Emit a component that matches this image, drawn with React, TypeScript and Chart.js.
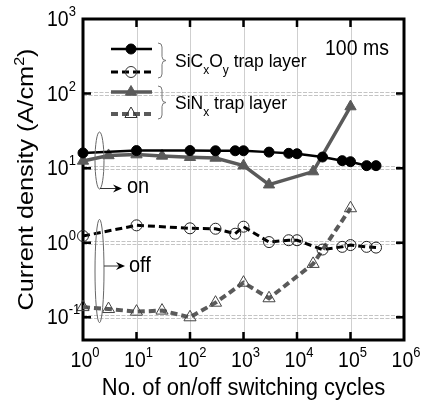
import React, { useEffect, useRef } from 'react';
import { Chart, registerables } from 'chart.js';
Chart.register(...registerables);

// ---- data ----
const cyclesSiCO = [1, 10, 100, 300, 700, 1000, 3000, 7000, 10000, 30000, 70000, 100000, 200000, 300000];
const onSiCO = [16, 17.2, 17.2, 17.1, 17.1, 17.1, 16.4, 15.8, 15.6, 14.1, 12.6, 12.2, 10.8, 10.8];
const offSiCO = [1.23, 1.71, 1.56, 1.54, 1.32, 1.64, 1.02, 1.08, 1.08, 0.81, 0.88, 0.93, 0.88, 0.86];
const cyclesSiN = [1, 3, 10, 30, 100, 300, 1000, 3000, 20000, 100000];
const onSiN = [12.5, 14.8, 15.2, 14.6, 14.0, 13.7, 10.8, 6.0, 9.0, 67];
const offSiN = [0.137, 0.129, 0.119, 0.123, 0.1, 0.157, 0.291, 0.18, 0.52, 2.9];
const xTickExps = [0, 1, 2, 3, 4, 5, 6];
const yTickExps = [-1, 0, 1, 2, 3];
const xTitle = 'No. of on/off switching cycles';
const yTitle = 'Current density (A/cm';
const noteText = '100 ms';

const FONT = '"Liberation Sans", Arial, Helvetica, sans-serif';
const SY = 1.1;
const GREY = '#5a5a5a';

type Run = { t: string; size: number; dy: number };

function drawRuns(ctx: CanvasRenderingContext2D, runs: Run[], x: number, y: number, align: 'left' | 'center' | 'right', sy = SY) {
  ctx.save();
  ctx.textBaseline = 'alphabetic';
  ctx.textAlign = 'left';
  let total = 0;
  const widths = runs.map((r) => {
    ctx.font = `${r.size}px ${FONT}`;
    const w = ctx.measureText(r.t).width;
    total += w;
    return w;
  });
  let cx = align === 'left' ? x : align === 'center' ? x - total / 2 : x - total;
  runs.forEach((r, i) => {
    ctx.save();
    ctx.translate(cx, y + r.dy);
    ctx.scale(1, sy);
    ctx.font = `${r.size}px ${FONT}`;
    ctx.fillText(r.t, 0, 0);
    ctx.restore();
    cx += widths[i];
  });
  ctx.restore();
}

function drawMarker(ctx: CanvasRenderingContext2D, style: string, x: number, y: number, r: number, fill: string | null, stroke: string, lw: number) {
  ctx.save();
  ctx.beginPath();
  if (style === 'circle') {
    ctx.arc(x, y, r, 0, Math.PI * 2);
  } else {
    const s = Math.sin(Math.PI / 3);
    ctx.moveTo(x, y - r);
    ctx.lineTo(x + r * s, y + r * 0.5);
    ctx.lineTo(x - r * s, y + r * 0.5);
    ctx.closePath();
  }
  if (fill) {
    ctx.fillStyle = fill;
    ctx.fill();
  }
  ctx.setLineDash([]);
  ctx.lineWidth = lw;
  ctx.strokeStyle = stroke;
  ctx.stroke();
  ctx.restore();
}

function brace(ctx: CanvasRenderingContext2D, x: number, y0: number, y1: number) {
  const m = (y0 + y1) / 2;
  ctx.save();
  ctx.strokeStyle = '#777';
  ctx.lineWidth = 1;
  ctx.beginPath();
  ctx.moveTo(x, y0);
  ctx.quadraticCurveTo(x + 4, y0, x + 4, y0 + 4);
  ctx.lineTo(x + 4, m - 4);
  ctx.quadraticCurveTo(x + 4, m, x + 8, m);
  ctx.quadraticCurveTo(x + 4, m, x + 4, m + 4);
  ctx.lineTo(x + 4, y1 - 4);
  ctx.quadraticCurveTo(x + 4, y1, x, y1);
  ctx.stroke();
  ctx.restore();
}

function arrow(ctx: CanvasRenderingContext2D, x0: number, x1: number, y: number) {
  ctx.save();
  ctx.strokeStyle = '#333';
  ctx.lineWidth = 1;
  ctx.beginPath();
  ctx.moveTo(x0, y);
  ctx.lineTo(x1 - 4, y);
  ctx.stroke();
  ctx.fillStyle = '#000';
  ctx.beginPath();
  ctx.moveTo(x1, y);
  ctx.lineTo(x1 - 9, y - 4);
  ctx.lineTo(x1 - 6, y);
  ctx.lineTo(x1 - 9, y + 4);
  ctx.closePath();
  ctx.fill();
  ctx.restore();
}

const decorPlugin = {
  id: 'decor',
  beforeDatasetsDraw(chart: any) {
    const ctx: CanvasRenderingContext2D = chart.ctx;
    const { left, right, top, bottom } = chart.chartArea;
    const xs = chart.scales.x;
    const ys = chart.scales.y;
    ctx.save();
    // vertical grid
    ctx.strokeStyle = '#cfcfcf';
    ctx.lineWidth = 1;
    xTickExps.slice(1, -1).forEach((e) => {
      const px = Math.round(xs.getPixelForValue(Math.pow(10, e))) + 0.5;
      ctx.beginPath();
      ctx.moveTo(px, top);
      ctx.lineTo(px, bottom);
      ctx.stroke();
    });
    // horizontal double dashed grid
    ctx.strokeStyle = '#c4c4c4';
    ctx.setLineDash([4, 1.5]);
    yTickExps.slice(0, -1).forEach((e) => {
      const py = Math.round(ys.getPixelForValue(Math.pow(10, e)));
      [py - 1.5, py + 1.5].forEach((yy) => {
        ctx.beginPath();
        ctx.moveTo(left, yy);
        ctx.lineTo(right, yy);
        ctx.stroke();
      });
    });
    ctx.setLineDash([]);
    // frame
    ctx.strokeStyle = '#000';
    ctx.lineWidth = 3;
    ctx.strokeRect(left, top, right - left, bottom - top);
    // inward ticks
    ctx.lineWidth = 2.5;
    const tl = 8;
    xTickExps.slice(1, -1).forEach((e) => {
      const px = xs.getPixelForValue(Math.pow(10, e));
      ctx.beginPath();
      ctx.moveTo(px, bottom);
      ctx.lineTo(px, bottom - tl);
      ctx.moveTo(px, top);
      ctx.lineTo(px, top + tl);
      ctx.stroke();
    });
    yTickExps.slice(0, -1).forEach((e) => {
      const py = ys.getPixelForValue(Math.pow(10, e));
      ctx.beginPath();
      ctx.moveTo(left, py);
      ctx.lineTo(left + tl, py);
      ctx.moveTo(right, py);
      ctx.lineTo(right - tl, py);
      ctx.stroke();
    });
    ctx.restore();
  },
  afterDraw(chart: any) {
    const ctx: CanvasRenderingContext2D = chart.ctx;
    const { left, right, top, bottom } = chart.chartArea;
    const xs = chart.scales.x;
    const ys = chart.scales.y;
    ctx.save();
    ctx.fillStyle = '#000';
    // x tick labels
    xTickExps.forEach((e) => {
      const px = xs.getPixelForValue(Math.pow(10, e));
      drawRuns(ctx, [{ t: '10', size: 19.5, dy: 0 }, { t: String(e), size: 13, dy: -10 }], px + 2, bottom + 27, 'center');
    });
    // y tick labels
    yTickExps.forEach((e) => {
      const py = ys.getPixelForValue(Math.pow(10, e));
      drawRuns(ctx, [{ t: '10', size: 19.5, dy: 0 }, { t: String(e), size: 13, dy: -10 }], 47, py + 7, 'left');
    });
    // x title
    drawRuns(ctx, [{ t: xTitle, size: 22, dy: 0 }], (left + right) / 2, 395, 'center', 1.05);
    // y title (rotated)
    ctx.save();
    ctx.translate(33, (top + bottom) / 2);
    ctx.scale(1, 1.15);
    ctx.rotate(-Math.PI / 2);
    drawRuns(ctx, [{ t: yTitle, size: 22, dy: 0 }, { t: '2', size: 14, dy: -9 }, { t: ')', size: 22, dy: 0 }], 0, 0, 'center', 1);
    ctx.restore();
    // note
    drawRuns(ctx, [{ t: noteText, size: 19.5, dy: 0 }], 325, 55, 'left');

    // legend
    const lx0 = 111, lx1 = 152, mx = 131;
    const rows = [
      { y: 49, color: '#000', dash: [] as number[], lw: 2.5, style: 'circle', fill: '#000', r: 5 },
      { y: 72, color: '#000', dash: [7, 4], lw: 3, style: 'circle', fill: null, r: 5.5 },
      { y: 92, color: GREY, dash: [] as number[], lw: 3.5, style: 'triangle', fill: GREY, r: 6.5 },
      { y: 114, color: GREY, dash: [7, 4], lw: 4, style: 'triangle', fill: null, r: 7 },
    ];
    rows.forEach((row) => {
      ctx.save();
      ctx.strokeStyle = row.color;
      ctx.lineWidth = row.lw;
      ctx.setLineDash(row.dash);
      ctx.beginPath();
      ctx.moveTo(lx0, row.y);
      ctx.lineTo(lx1, row.y);
      ctx.stroke();
      ctx.restore();
      drawMarker(ctx, row.style, mx, row.y, row.r, row.fill, row.fill ? row.color : '#333', 1);
    });
    brace(ctx, 158, 43, 78);
    brace(ctx, 158, 86, 119);
    drawRuns(ctx, [
      { t: 'SiC', size: 17.5, dy: 0 }, { t: 'x', size: 12, dy: 7 },
      { t: 'O', size: 17.5, dy: 0 }, { t: 'y', size: 12, dy: 7 },
      { t: ' trap layer', size: 17.5, dy: 0 },
    ], 175, 67, 'left');
    drawRuns(ctx, [
      { t: 'SiN', size: 17.5, dy: 0 }, { t: 'x', size: 12, dy: 7 },
      { t: ' trap layer', size: 17.5, dy: 0 },
    ], 175, 109, 'left');

    // ellipses + arrows
    ctx.strokeStyle = '#666';
    ctx.lineWidth = 1;
    ctx.beginPath();
    ctx.ellipse(99.5, 160.5, 4.5, 28.5, 0, 0, Math.PI * 2);
    ctx.stroke();
    ctx.beginPath();
    ctx.ellipse(99.5, 271, 4.5, 51.7, 0, 0, Math.PI * 2);
    ctx.stroke();
    arrow(ctx, 100, 122, 188.5);
    arrow(ctx, 104, 125, 266);
    ctx.fillStyle = '#000';
    drawRuns(ctx, [{ t: 'on', size: 20, dy: 0 }], 127, 193, 'left');
    drawRuns(ctx, [{ t: 'off', size: 20, dy: 0 }], 129, 272, 'left');
    ctx.restore();
  },
};

export default function App() {
  const ref = useRef<HTMLCanvasElement | null>(null);
  useEffect(() => {
    document.body.style.margin = '0';
    const canvas = ref.current;
    if (!canvas) return;
    const pts = (xs: number[], ys: number[]) => xs.map((x, i) => ({ x, y: ys[i] }));
    const chart = new Chart(canvas, {
      type: 'line',
      data: {
        datasets: [
          {
            label: 'SiCxOy on',
            data: pts(cyclesSiCO, onSiCO),
            borderColor: '#000',
            backgroundColor: '#000',
            borderWidth: 2.5,
            pointStyle: 'circle',
            pointRadius: 5,
            pointBorderWidth: 1,
            pointBackgroundColor: '#000',
            pointBorderColor: '#000',
            clip: false,
          },
          {
            label: 'SiCxOy off',
            data: pts(cyclesSiCO, offSiCO),
            borderColor: '#000',
            borderDash: [7, 4],
            borderWidth: 3,
            pointStyle: 'circle',
            pointRadius: 5.5,
            pointBorderWidth: 1,
            pointBackgroundColor: 'rgba(0,0,0,0)',
            pointBorderColor: '#222',
            clip: false,
          },
          {
            label: 'SiNx on',
            data: pts(cyclesSiN, onSiN),
            borderColor: GREY,
            backgroundColor: GREY,
            borderWidth: 3.5,
            pointStyle: 'triangle',
            pointRadius: 6.5,
            pointBorderWidth: 1,
            pointBackgroundColor: GREY,
            pointBorderColor: GREY,
            clip: false,
          },
          {
            label: 'SiNx off',
            data: pts(cyclesSiN, offSiN),
            borderColor: GREY,
            borderDash: [7, 4],
            borderWidth: 4,
            pointStyle: 'triangle',
            pointRadius: 7,
            pointBorderWidth: 1,
            pointBackgroundColor: 'rgba(0,0,0,0)',
            pointBorderColor: '#444',
            clip: false,
          },
        ] as any,
      },
      options: {
        animation: false,
        responsive: false,
        maintainAspectRatio: false,
        layout: { padding: { left: 0, right: 19, top: 19, bottom: 0 } },
        elements: { line: { tension: 0 } },
        plugins: { legend: { display: false }, tooltip: { enabled: false } },
        scales: {
          x: {
            type: 'logarithmic',
            min: 1,
            max: 1e6,
            grid: { display: false },
            border: { display: false },
            ticks: { display: false },
            afterFit: (s: any) => { s.height = 62; },
          },
          y: {
            type: 'logarithmic',
            min: 0.0496,
            max: 1000,
            grid: { display: false },
            border: { display: false },
            ticks: { display: false },
            afterFit: (s: any) => { s.width = 83; },
          },
        },
      } as any,
      plugins: [decorPlugin],
    });
    return () => chart.destroy();
  }, []);
  return (
    <div style={{ position: 'absolute', left: 0, top: 0, width: 423, height: 402 }}>
      <canvas ref={ref} width={423} height={402} style={{ width: 423, height: 402, display: 'block' }} />
    </div>
  );
}
